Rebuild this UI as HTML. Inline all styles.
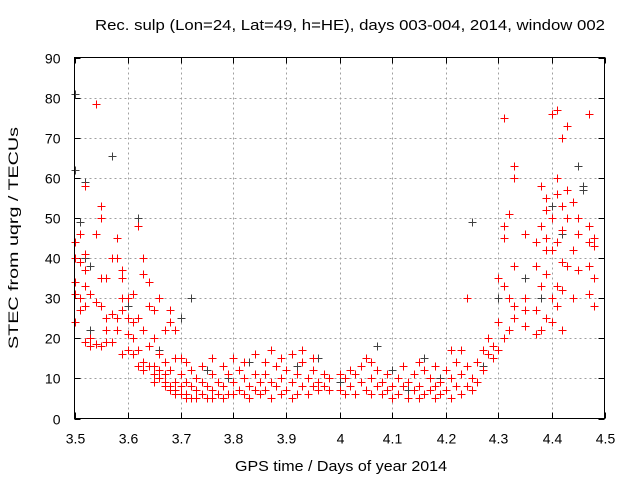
<!DOCTYPE html>
<html><head><meta charset="utf-8"><style>
body{margin:0;background:#fff}
svg text{font-family:"Liberation Sans",sans-serif;fill:#000}
</style></head><body>
<svg id="chart" width="640" height="480" xmlns="http://www.w3.org/2000/svg">
<rect width="640" height="480" fill="#fff"/>
<text x="350" y="30" font-size="15" text-anchor="middle" textLength="510" lengthAdjust="spacingAndGlyphs">Rec. sulp (Lon=24, Lat=49, h=HE), days 003-004, 2014, window 002</text>
<text x="341" y="471" font-size="15" text-anchor="middle" textLength="212" lengthAdjust="spacingAndGlyphs">GPS time / Days of year 2014</text>
<text x="18" y="238" font-size="14" text-anchor="middle" textLength="222" lengthAdjust="spacingAndGlyphs" transform="rotate(-90 18 238)">STEC from uqrg / TECUs</text>
<g id="grid"></g>
<g id="ticks"></g>
<g id="marks"></g>
<rect x="74.5" y="57.5" width="530" height="361" fill="none" stroke="#000" stroke-width="1"/>
</svg>
<script>
const xTicks=[3.5,3.6,3.7,3.8,3.9,4,4.1,4.2,4.3,4.4,4.5];
const xTickLabels=["3.5","3.6","3.7","3.8","3.9","4","4.1","4.2","4.3","4.4","4.5"];
const yTicks=[0,10,20,30,40,50,60,70,80,90];
const redX=[3.50,3.50,3.50,3.50,3.50,3.51,3.51,3.51,3.51,3.52,3.52,3.52,3.52,3.52,3.52,3.53,3.53,3.53,3.54,3.54,3.54,3.54,3.55,3.55,3.55,3.55,3.55,3.56,3.56,3.56,3.56,3.57,3.57,3.57,3.58,3.58,3.58,3.58,3.59,3.59,3.59,3.59,3.59,3.60,3.60,3.60,3.60,3.61,3.61,3.61,3.61,3.62,3.62,3.62,3.62,3.63,3.63,3.63,3.63,3.63,3.64,3.64,3.64,3.64,3.65,3.65,3.65,3.65,3.65,3.66,3.66,3.66,3.66,3.67,3.67,3.67,3.67,3.67,3.68,3.68,3.68,3.68,3.68,3.69,3.69,3.69,3.69,3.69,3.70,3.70,3.70,3.70,
3.71,3.71,3.71,3.71,3.72,3.72,3.72,3.73,3.73,3.73,3.74,3.74,3.74,3.75,3.75,3.76,3.76,3.76,3.76,3.77,3.77,3.78,3.78,3.78,3.79,3.79,3.80,3.80,3.80,3.81,3.81,3.82,3.82,3.82,3.83,3.83,3.84,3.84,3.84,3.85,3.85,3.86,3.86,3.86,3.87,3.87,3.87,3.88,3.88,3.89,3.89,3.89,3.90,3.90,3.91,3.91,3.91,3.92,3.92,3.93,3.93,3.93,3.94,3.94,3.95,3.95,3.95,3.96,3.96,3.97,3.97,3.98,3.98,
4.00,4.00,4.01,4.01,4.02,4.02,4.03,4.03,4.04,4.04,4.05,4.05,4.06,4.06,4.06,4.07,4.07,4.08,4.08,4.09,4.09,4.10,4.10,4.11,4.11,4.12,4.12,4.13,4.13,4.14,4.14,4.15,4.15,4.15,4.16,4.16,4.17,4.17,4.18,4.18,4.18,4.19,4.19,4.20,4.20,4.21,4.21,4.21,4.22,4.22,4.23,4.23,4.23,4.24,4.24,4.24,4.25,4.25,4.26,4.26,4.27,4.27,4.28,4.28,4.29,4.29,
4.30,4.30,4.30,4.31,4.31,4.31,4.31,4.31,4.32,4.32,4.32,4.33,4.33,4.33,4.33,4.33,4.35,4.35,4.35,4.35,4.37,4.37,4.37,4.37,4.38,4.38,4.38,4.38,4.39,4.39,4.39,4.39,4.39,4.39,4.40,4.40,4.40,4.40,4.40,4.41,4.41,4.41,4.41,4.41,4.41,4.42,4.42,4.42,4.42,4.42,4.42,4.43,4.43,4.43,4.43,4.44,4.44,4.44,4.45,4.45,4.45,4.47,4.47,4.47,4.47,4.47,4.48,4.48,4.48,4.48];
const redY=[44,40,34,31,24,46,39,30,27,58,41,37,33,28,19,31,18,20,78.5,46,29,18.5,53,50,35,28,18,35,25,22,19,40,26,19,45,40,25,22,37,35,30,27,16,30,25,21,17,31,24,20,16,48,25,17,13,40,36,22,14,12,34,28,18,13,27,20,13,11,9,30,16,12,10,22,14,11,9,8,27,24,12,8,7,22,15,9,7,6,15,11,8,6,
14,9,6,5,12,8,5,10,7,5,13,9,6,8,5,15,11,7,5,9,6,13,8,5,6,11,15,9,6,12,7,14,10,6,8,5,11,7,16,9,6,14,11,7,17,9,5,13,8,15,10,6,12,7,16,9,5,11,6,17,14,8,10,6,15,12,8,9,7,11,8,10,7,
11,7,10,6,12,8,11,6,13,9,15,7,14,10,6,8,12,9,6,11,7,8,5,10,6,13,8,9,5,11,7,14,8,5,12,6,10,7,13,8,5,9,6,12,7,17,10,5,14,8,17,11,6,13,8,30,10,7,14,9,17,12,20,16,18,15,
35,24,17,75,45,48,33,20,51,30,22,63,60,38,28,25,46,30,27,23,44,38,27,21,58,48,33,22,55,52,45,42,36,25,76,50,42,30,24,77,60,56,44,33,28,70,53,47,39,32,22,73,57,50,38,54,42,30,50,46,37,76,48,44,38,31,45,43,28,35];
const grayX=[3.50,3.50,3.51,3.52,3.52,3.53,3.53,3.57,3.57,3.60,3.62,3.66,3.70,3.72,3.75,3.79,3.83,3.87,3.88,3.92,3.96,4.00,4.03,4.07,4.10,4.13,4.16,4.19,4.22,4.25,4.27,4.30,4.35,4.40,4.45,4.46,4.46,4.38,4.42];
const grayY=[81,62,49,59,40,38,22,65.5,40,28,50,17,25,30,12,10,14,17,8,13,15,9,11,18,12,7,15,10,14,49,13,30,35,53,63,57,58,30,46];
const L=74.5,R=604.5,T=57.5,B=418.5;
function xs(v){return L+(v-3.5)/(4.5-3.5)*(R-L);}
function ys(v){return B-v/90*(B-T);}
const NS="http://www.w3.org/2000/svg";
function mk(tag,attrs,parent){const e=document.createElementNS(NS,tag);for(const k in attrs)e.setAttribute(k,attrs[k]);parent.appendChild(e);return e;}
const grid=document.getElementById('grid'),ticks=document.getElementById('ticks'),marks=document.getElementById('marks');
xTicks.forEach((v,i)=>{const x=Math.round(xs(v))+0.5;
 if(i>0&&i<xTicks.length-1){const g=mk('line',{x1:x,x2:x,y1:T,y2:B,stroke:'#a0a0a0','stroke-dasharray':'2,3'},grid);
 
 }
 mk('line',{x1:x,x2:x,y1:B,y2:B-6,stroke:'#000'},ticks);mk('line',{x1:x,x2:x,y1:T,y2:T+6,stroke:'#000'},ticks);
 const t=mk('text',{x:x,y:B+25,'font-size':14,'text-anchor':'middle'},ticks);t.textContent=xTickLabels[i];
 
 });
yTicks.forEach((v,i)=>{const y=Math.round(ys(v))+0.5;
 if(i>0&&i<yTicks.length-1){const g=mk('line',{x1:L,x2:R,y1:y,y2:y,stroke:'#a0a0a0','stroke-dasharray':'2,3'},grid);
 
 }
 mk('line',{x1:L,x2:L+6,y1:y,y2:y,stroke:'#000'},ticks);mk('line',{x1:R,x2:R-6,y1:y,y2:y,stroke:'#000'},ticks);
 const t=mk('text',{x:L-14,y:y+5,'font-size':14,'text-anchor':'end'},ticks);t.textContent=String(v);
 
 });
function plus(x,y,c,name){const px=Math.round(xs(x))+0.5,py=Math.round(ys(y))+0.5;
 const p=mk('path',{d:`M${px-4},${py}H${px+4}M${px},${py-4}V${py+4}`,stroke:c,'stroke-width':1,fill:'none'},marks);
 
 }
grayX.forEach((x,i)=>plus(x,grayY[i],'#404040','gray-point'));
redX.forEach((x,i)=>plus(x,redY[i],'#ff0000','red-point'));
</script>
</body></html>
